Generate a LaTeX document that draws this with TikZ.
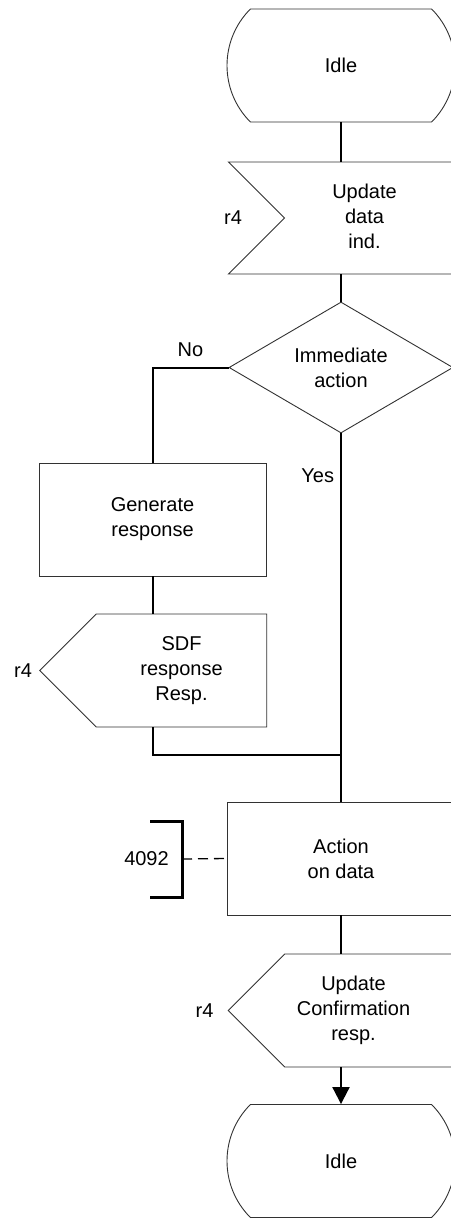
\documentclass[tikz,border=0pt]{standalone}
\usepackage{fontspec}
\setmainfont{Liberation Sans}
\usetikzlibrary{shapes.geometric, shapes.symbols, shapes.misc, arrows.meta, positioning}
\definecolor{edgegray}{RGB}{50, 50, 50}
\newcommand{\nudgetext}[2]{\hspace*{#1}\begin{tabular}{@{}c@{}}#2\end{tabular}}

\begin{document}
\begin{tikzpicture}[
    x=1pt, y=-1pt,
    base/.style={draw=edgegray, line width=0.9pt, fill=white, align=center, inner sep=0pt, font=\fontsize{20pt}{25pt}\selectfont},
    idle/.style={base, rounded rectangle, rounded rectangle arc length=90, minimum width=228, minimum height=113},
    insig/.style={base, signal, signal to=nowhere, signal from=west, minimum height=112},
    outsig/.style={base, signal, signal to=west, signal from=nowhere, minimum height=113},
    task/.style={base, rectangle, minimum width=227, minimum height=113},
    decision/.style={base, diamond, aspect=1.7, minimum width=224, minimum height=131},
    note/.style={inner sep=0pt, font=\fontsize{20pt}{25pt}\selectfont},
    flow/.style={line width=2pt, black},
    bracket/.style={line width=3pt, black},
    dashline/.style={line width=1.3pt, black, dash pattern=on 10pt off 6pt}
]
    \useasboundingbox (0, 0) rectangle (450, 1218);

    % --- Receive ---
    \node[idle] (idle1) at (341, 65.5) {Idle};
    \node[insig, minimum width=227] (upd) at (370, 218) {\nudgetext{-11pt}{Update\\data\\ind.}};
    \node[note] (r4a) at (233, 218) {r4};

    \node[decision] (dec) at (341, 367.5) {Immediate\\action};

    % --- No branch ---
    \node[task] (gen) at (152.5, 519.5) {Generate\\response};
    \node[outsig, minimum width=227] (sdf) at (181.5, 670.5) {SDF\\response\\Resp.};
    \node[note, left=7pt of sdf.west] (r4b) {r4};

    \coordinate (join) at (341, 755);

    % --- Action ---
    \node[task, minimum width=228] (act) at (341, 858.5) {Action\\on data};
    \node[note] (c4092) at (146.5, 859) {4092};
    \coordinate (brk) at (182, 859);
    \draw[bracket] ([shift={(-32,-38)}]brk) -- ++(32, 0) -- ++(0, 76) -- ++(-32, 0);
    \draw[dashline] (brk) -- (act.west);

    \node[outsig, minimum width=226] (conf) at (369.5, 1010.5) {\nudgetext{-32pt}{Update\\Confirmation\\resp.}};
    \node[note, left=14pt of conf.west] (r4c) {r4};

    \node[idle] (idle2) at (341, 1161) {Idle};

    % --- Connectors ---
    \draw[flow] (idle1.south) -- (idle1.south |- upd.north);
    \draw[flow] (dec.north |- upd.south) -- (dec.north);
    \draw[flow] (dec.west) -| node[note, pos=0.25, above=10pt] (no) {No} (gen.north);
    \draw[flow] (dec.south) -- node[note, pos=0.13, left=6pt] (yes) {Yes} (join) -- (act.north);
    \draw[flow] (gen.south) -- (gen.south |- sdf.north);
    \draw[flow] (gen.south |- sdf.south) |- (join);
    \draw[flow] (act.south) -- (act.south |- conf.north);
    \draw[flow, -{Triangle[length=17pt, width=17pt]}] (idle2.north |- conf.south) -- (idle2.north);

\end{tikzpicture}
\end{document}
